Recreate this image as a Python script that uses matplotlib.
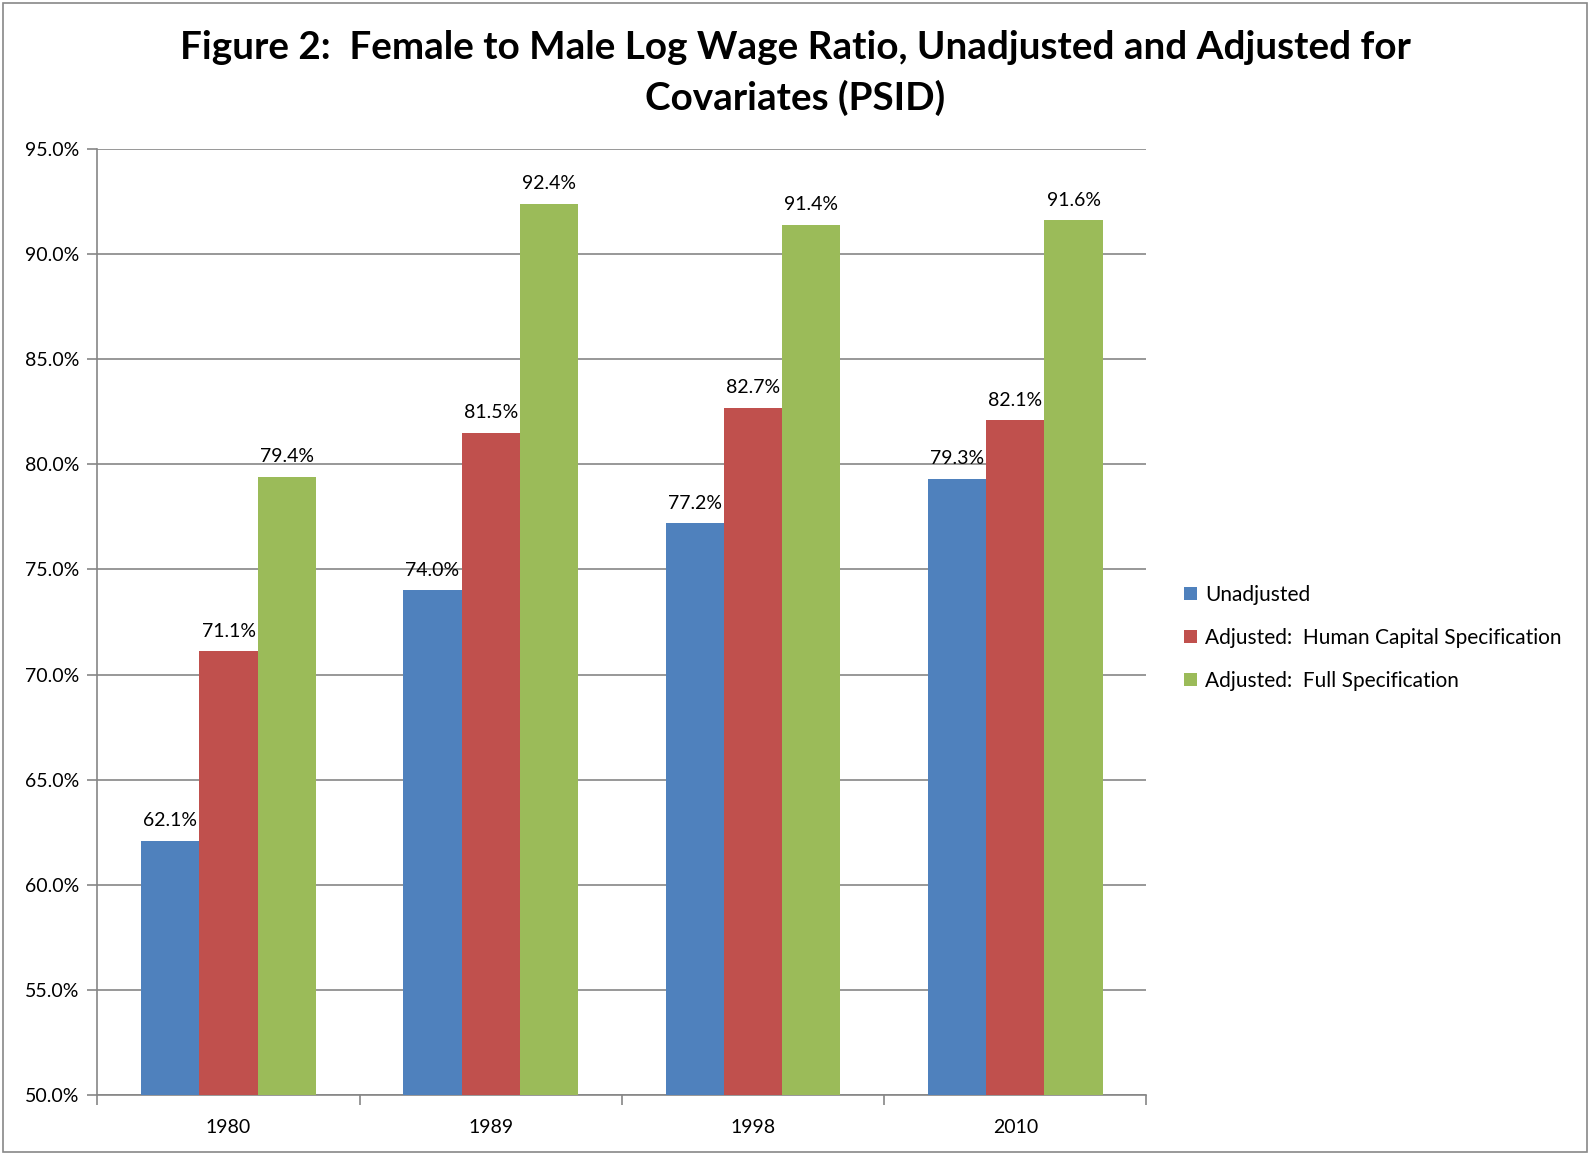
import matplotlib.pyplot as plt
import matplotlib.patches as mpatches
import numpy as np

plt.rcParams['font.family'] = ['Lato', 'DejaVu Sans']

years = ['1980', '1989', '1998', '2010']
unadjusted = [62.1, 74.0, 77.2, 79.3]
human_cap = [71.1, 81.5, 82.7, 82.1]
full_spec = [79.4, 92.4, 91.4, 91.6]
series_names = ['Unadjusted',
                'Adjusted:  Human Capital Specification',
                'Adjusted:  Full Specification']
colors = ['#4F81BD', '#C0504D', '#9BBB59']

fig = plt.figure(figsize=(15.9, 11.55), dpi=100)
ax = fig.add_axes([0.0613, 0.052, 0.6597, 0.819])

# border round the whole chart
fig.patches.append(mpatches.Rectangle((0.002, 0.003), 0.996, 0.994, transform=fig.transFigure,
                                      fill=False, edgecolor='#888888', lw=1.2))

x = np.arange(len(years))
w = 0.2222
for i, (vals, c) in enumerate(zip([unadjusted, human_cap, full_spec], colors)):
    pos = x + (i - 1) * w
    ax.bar(pos, vals, width=w, color=c, label=series_names[i], zorder=3)
    for p, v in zip(pos, vals):
        ax.text(p, v + 0.55, '%.1f%%' % v, ha='center', va='bottom', fontsize=14, zorder=4)

ax.set_xlim(-0.5, 3.5)
ax.set_ylim(50, 95)
yt = np.arange(50, 96, 5)
ax.set_yticks(yt)
ax.set_yticklabels(['%.1f%%' % v for v in yt], fontsize=14)
ax.yaxis.grid(True, color='#868686', lw=1.2, zorder=0)

ax.set_xticks(x)
ax.set_xticklabels(years, fontsize=14)
ax.set_xticks(np.arange(-0.5, 4.0, 1.0), minor=True)
ax.tick_params(axis='x', which='major', length=0, pad=17)
ax.tick_params(axis='x', which='minor', length=7, color='#868686', width=1.2)
ax.tick_params(axis='y', length=7, color='#868686', width=1.2, pad=6)

for s in ['top', 'right']:
    ax.spines[s].set_visible(False)
for s in ['left', 'bottom']:
    ax.spines[s].set_color('#868686')
    ax.spines[s].set_linewidth(1.2)

fig.text(0.5, 0.959, 'Figure 2:  Female to Male Log Wage Ratio, Unadjusted and Adjusted for',
         ha='center', va='center', fontsize=27.8, fontweight='bold')
fig.text(0.5, 0.915, 'Covariates (PSID)', ha='center', va='center', fontsize=27.8, fontweight='bold')

ax.legend(loc='center left', bbox_to_anchor=(1.018, 0.483), frameon=False, fontsize=15,
          handlelength=0.6, handleheight=0.6, handletextpad=0.4, labelspacing=1.1)

plt.savefig('out.png', dpi=100)
